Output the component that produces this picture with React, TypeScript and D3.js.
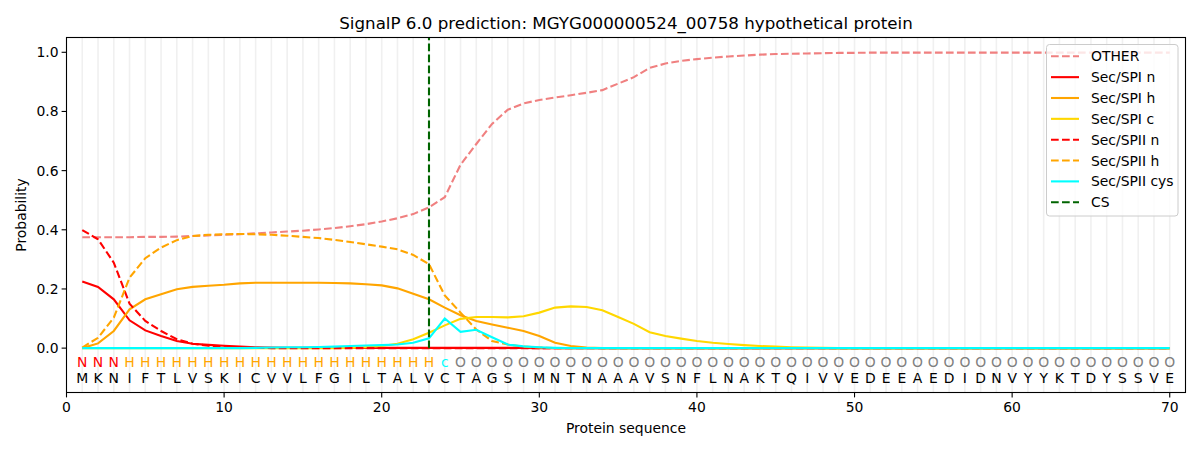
import { scaleLinear, line } from 'd3';

const sequence = 'MKNIFTLVSKICVVLFGILTALVCTAGSIMNTNAAAVSNFLNAKTQIVVEDEEAEDIDNVYYKTDYSSVE'.split('');
const regions = 'NNNHHHHHHHHHHHHHHHHHHHHcOOOOOOOOOOOOOOOOOOOOOOOOOOOOOOOOOOOOOOOOOOOOOO'.split('');

const other = [
    0.375, 0.375, 0.375, 0.375, 0.376, 0.376, 0.377, 0.379, 0.381, 0.383,
    0.385, 0.388, 0.391, 0.394, 0.397, 0.401, 0.406, 0.412, 0.419, 0.428,
    0.439, 0.453, 0.476, 0.51, 0.62, 0.69, 0.758, 0.806, 0.827, 0.839,
    0.847, 0.855, 0.863, 0.872, 0.894, 0.916, 0.947, 0.962, 0.971, 0.977,
    0.982, 0.986, 0.989, 0.992, 0.994, 0.995, 0.996, 0.997, 0.998, 0.998,
    0.999, 0.999, 0.999, 0.999, 0.999, 0.999, 0.999, 0.999, 0.999, 0.999,
    0.999, 0.999, 0.999, 0.999, 0.999, 0.999, 0.999, 0.999, 0.999, 0.999,
];
const spiN = [
    0.225, 0.207, 0.165, 0.094, 0.06, 0.041, 0.024, 0.015, 0.011, 0.008,
    0.005, 0.003, 0.002, 0.001, 0.001, 0.001, 0.001, 0.001, 0.001, 0.001,
    0.001, 0.001, 0.001, 0.001, 0.001, 0.001, 0.001, 0.001, 0.001, 0,
    0, 0, 0, 0, 0, 0, 0, 0, 0, 0,
    0, 0, 0, 0, 0, 0, 0, 0, 0, 0,
    0, 0, 0, 0, 0, 0, 0, 0, 0, 0,
    0, 0, 0, 0, 0, 0, 0, 0, 0, 0,
];
const spiH = [
    0, 0.016, 0.058, 0.131, 0.165, 0.182, 0.199, 0.207, 0.211, 0.214,
    0.219, 0.221, 0.221, 0.221, 0.221, 0.221, 0.22, 0.219, 0.216, 0.212,
    0.202, 0.184, 0.165, 0.137, 0.111, 0.092, 0.08, 0.069, 0.058, 0.041,
    0.018, 0.007, 0.002, 0, 0, 0, 0, 0, 0, 0,
    0, 0, 0, 0, 0, 0, 0, 0, 0, 0,
    0, 0, 0, 0, 0, 0, 0, 0, 0, 0,
    0, 0, 0, 0, 0, 0, 0, 0, 0, 0,
];
const spiC = [
    0, 0, 0, 0, 0, 0, 0, 0, 0, 0,
    0, 0, 0, 0, 0, 0, 0, 0.001, 0.003, 0.007,
    0.015, 0.03, 0.052, 0.077, 0.099, 0.105, 0.105, 0.104, 0.108, 0.12,
    0.137, 0.141, 0.139, 0.128, 0.105, 0.082, 0.054, 0.041, 0.032, 0.024,
    0.018, 0.014, 0.01, 0.007, 0.005, 0.003, 0.002, 0.001, 0, 0,
    0, 0, 0, 0, 0, 0, 0, 0, 0, 0,
    0, 0, 0, 0, 0, 0, 0, 0, 0, 0,
];
const spiiN = [
    0.399, 0.368, 0.289, 0.15, 0.092, 0.058, 0.03, 0.015, 0.008, 0.004,
    0.002, 0.001, 0, 0, 0, 0, 0, 0, 0, 0,
    0, 0, 0, 0, 0, 0, 0, 0, 0, 0,
    0, 0, 0, 0, 0, 0, 0, 0, 0, 0,
    0, 0, 0, 0, 0, 0, 0, 0, 0, 0,
    0, 0, 0, 0, 0, 0, 0, 0, 0, 0,
    0, 0, 0, 0, 0, 0, 0, 0, 0, 0,
];
const spiiH = [
    0.002, 0.035, 0.103, 0.238, 0.304, 0.34, 0.365, 0.379, 0.383, 0.385,
    0.386, 0.385, 0.383, 0.38, 0.376, 0.372, 0.366, 0.359, 0.351, 0.343,
    0.334, 0.315, 0.284, 0.178, 0.12, 0.063, 0.024, 0.012, 0.005, 0.002,
    0, 0, 0, 0, 0, 0, 0, 0, 0, 0,
    0, 0, 0, 0, 0, 0, 0, 0, 0, 0,
    0, 0, 0, 0, 0, 0, 0, 0, 0, 0,
    0, 0, 0, 0, 0, 0, 0, 0, 0, 0,
];
const spiiCys = [
    0, 0, 0, 0, 0, 0, 0, 0, 0, 0,
    0, 0.001, 0.002, 0.003, 0.003, 0.004, 0.005, 0.007, 0.009, 0.01,
    0.012, 0.018, 0.033, 0.1, 0.055, 0.062, 0.037, 0.012, 0.006, 0.003,
    0.001, 0, 0, 0, 0, 0, 0, 0, 0, 0,
    0, 0, 0, 0, 0, 0, 0, 0, 0, 0,
    0, 0, 0, 0, 0, 0, 0, 0, 0, 0,
    0, 0, 0, 0, 0, 0, 0, 0, 0, 0,
];
const csPos = 23;
const xTicks = [0, 10, 20, 30, 40, 50, 60, 70];
const yTicks = [0, 0.2, 0.4, 0.6, 0.8, 1.0];

const DASH = '7.7,3.3';
const series = [
    { name: 'OTHER', values: other, color: '#f08080', dash: DASH },
    { name: 'Sec/SPI n', values: spiN, color: 'red', dash: '' },
    { name: 'Sec/SPI h', values: spiH, color: 'orange', dash: '' },
    { name: 'Sec/SPI c', values: spiC, color: 'gold', dash: '' },
    { name: 'Sec/SPII n', values: spiiN, color: 'red', dash: DASH },
    { name: 'Sec/SPII h', values: spiiH, color: 'orange', dash: DASH },
    { name: 'Sec/SPII cys', values: spiiCys, color: 'cyan', dash: '' },
];
const regionColor: { [k: string]: string } = { N: 'red', H: 'orange', c: 'cyan', O: 'gray' };

const W = 1200;
const H = 450;
const left = 66.5;
const right = 1185.5;
const top = 37.5;
const bottom = 392.5;
const font = '"DejaVu Sans", sans-serif';

export default function App() {
    const x = scaleLinear().domain([0, 71]).range([left, right]);
    const y = scaleLinear().domain([-0.15, 1.05]).range([bottom, top]);
    const path = line<number>()
        .x((d, i) => x(i + 1))
        .y((d) => y(d));
    const positions = sequence.map((s, i) => i + 1);
    const legendItems = [...series, { name: 'CS', color: 'darkgreen', dash: DASH }];

    return (
        <svg width={W} height={H} style={{ position: 'absolute', left: 0, top: 0, background: 'white' }} fontFamily={font}>
            <rect x={0} y={0} width={W} height={H} fill="white" />
            <text x={(left + right) / 2} y={29} textAnchor="middle" fontSize={16.7}>
                SignalP 6.0 prediction: MGYG000000524_00758 hypothetical protein
            </text>
            {/* vertical position grid */}
            {positions.map((p) => (
                <line key={'g' + p} x1={x(p)} x2={x(p)} y1={top} y2={bottom} stroke="#f0f0f0" strokeWidth={1.6} />
            ))}
            {series.map((s) => (
                <path key={s.name} d={path(s.values) || ''} fill="none" stroke={s.color} strokeWidth={2.1} strokeDasharray={s.dash || undefined} />
            ))}
            {/* cleavage site, drawn from the zero line up */}
            <line x1={x(csPos)} x2={x(csPos)} y1={y(0)} y2={top} stroke="darkgreen" strokeWidth={2.1} strokeDasharray={DASH} />
            {/* residue annotations */}
            {regions.map((r, i) => (
                <text key={'r' + i} x={x(i + 1)} y={y(-0.047) + 5} textAnchor="middle" fontSize={13.9} fill={regionColor[r]}>
                    {r}
                </text>
            ))}
            {sequence.map((s, i) => (
                <text key={'s' + i} x={x(i + 1)} y={y(-0.1) + 5} textAnchor="middle" fontSize={13.9} fill="black">
                    {s}
                </text>
            ))}
            {/* axes frame */}
            <rect x={left} y={top} width={right - left} height={bottom - top} fill="none" stroke="black" strokeWidth={1.1} />
            {xTicks.map((t) => (
                <g key={'x' + t}>
                    <line x1={x(t)} x2={x(t)} y1={bottom} y2={bottom + 4.9} stroke="black" strokeWidth={1.1} />
                    <text x={x(t)} y={bottom + 19} textAnchor="middle" fontSize={13.9}>
                        {t}
                    </text>
                </g>
            ))}
            {yTicks.map((t) => (
                <g key={'y' + t}>
                    <line x1={left - 4.9} x2={left} y1={y(t)} y2={y(t)} stroke="black" strokeWidth={1.1} />
                    <text x={left - 8} y={y(t) + 5} textAnchor="end" fontSize={13.9}>
                        {t.toFixed(1)}
                    </text>
                </g>
            ))}
            <text x={(left + right) / 2} y={433} textAnchor="middle" fontSize={13.9}>
                Protein sequence
            </text>
            <text transform={`translate(26,${(top + bottom) / 2}) rotate(-90)`} textAnchor="middle" fontSize={13.9}>
                Probability
            </text>
            {/* legend */}
            <rect x={1046.5} y={44.5} width={131.5} height={171.5} rx={3} fill="white" fillOpacity={0.8} stroke="#cccccc" strokeWidth={1} />
            {legendItems.map((d, i) => {
                const ly = 56.3 + i * 20.85;
                return (
                    <g key={'l' + d.name}>
                        <line x1={1051} x2={1079} y1={ly} y2={ly} stroke={d.color} strokeWidth={2.1} strokeDasharray={d.dash || undefined} />
                        <text x={1091} y={ly + 5} fontSize={13.9}>
                            {d.name}
                        </text>
                    </g>
                );
            })}
        </svg>
    );
}
